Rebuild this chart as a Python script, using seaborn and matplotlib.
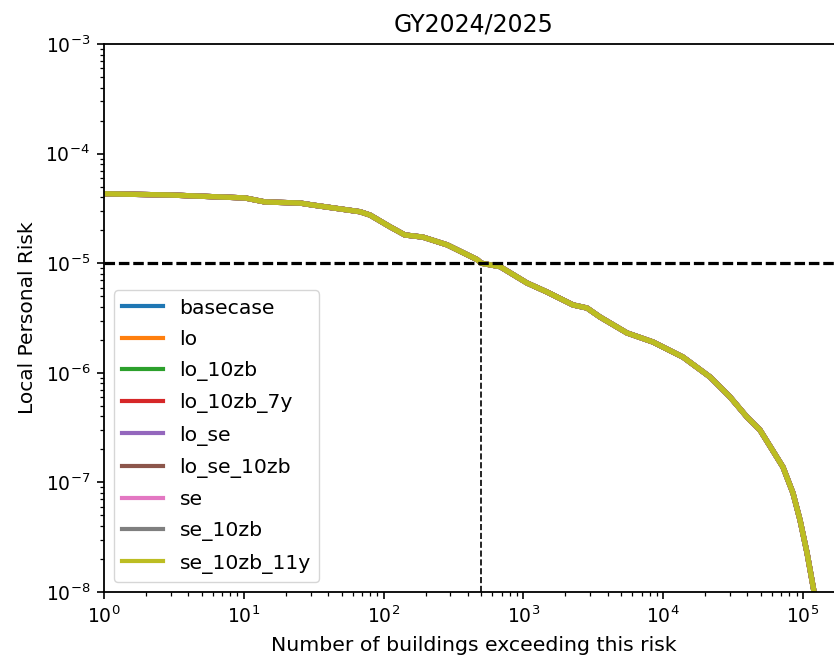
import numpy as np
import pandas as pd
import matplotlib
matplotlib.use("Agg")
import matplotlib.pyplot as plt
import seaborn as sns

# Scenario names (all scenarios give the same exceedance curve)
scenarios = ["basecase", "lo", "lo_10zb", "lo_10zb_7y", "lo_se",
             "lo_se_10zb", "se", "se_10zb", "se_10zb_11y"]

# Number of buildings exceeding a given local personal risk
buildings = [1, 2.97, 10.2, 14.2, 25.2, 31.3, 67.7, 80, 111, 142, 191, 285,
             466, 500, 681, 1061, 1476, 2265, 2852, 3530, 5510, 8450,
             13870, 21630, 30060, 39720, 49210, 71910, 84770, 95200,
             106900, 120000, 124000]
risk = [4.3e-5, 4.19e-5, 3.94e-5, 3.62e-5, 3.54e-5, 3.39e-5, 2.95e-5,
        2.75e-5, 2.15e-5, 1.81e-5, 1.73e-5, 1.47e-5, 1.08e-5, 1.0e-5,
        9.3e-6, 6.6e-6, 5.46e-6, 4.16e-6, 3.9e-6, 3.23e-6, 2.31e-6,
        1.91e-6, 1.39e-6, 9.16e-7, 6.02e-7, 3.95e-7, 3.01e-7, 1.38e-7,
        8.0e-8, 4.54e-8, 2.27e-8, 1.0e-8, 8.5e-9]

risk_limit = 1e-5
limit_buildings = 500

title = "GY2024/2025"
xlabel = "Number of buildings exceeding this risk"
ylabel = "Local Personal Risk"

frames = []
for name in scenarios:
    frames.append(pd.DataFrame({"buildings": buildings, "risk": risk,
                                "scenario": name}))
df = pd.concat(frames, ignore_index=True)

fig = plt.figure(figsize=(8.34, 6.66), dpi=100)
# the plot area runs slightly past the right border of the canvas
ax = fig.add_axes([104 / 834, 74 / 666, 739 / 834, 548 / 666])
ax.set_xscale("log")
ax.set_yscale("log")

sns.lineplot(data=df, x="buildings", y="risk", hue="scenario",
             hue_order=scenarios, palette="tab10", linewidth=3.8,
             estimator=None, sort=False, ax=ax)

ax.axhline(risk_limit, color="black", linestyle="--", linewidth=2.3,
           dashes=(3.3, 1.2), zorder=5)
ax.plot([limit_buildings, limit_buildings], [1e-8, risk_limit],
        color="black", linestyle="--", linewidth=1.2, zorder=5)

ax.set_xlim(1, 10 ** (739 / 139.8))
ax.set_ylim(1e-8, 1e-3)

ax.set_title(title, fontsize=17, pad=9)
ax.set_xlabel(xlabel, fontsize=14.7, labelpad=6)
ax.set_ylabel(ylabel, fontsize=14.5, labelpad=6)
ax.tick_params(axis="both", which="major", labelsize=13.5, length=5,
               width=1.2, pad=5)
ax.tick_params(axis="both", which="minor", length=3, width=0.9)
for sp in ax.spines.values():
    sp.set_linewidth(1.3)

leg = ax.legend(loc="lower left", fontsize=14.7, handlelength=2.0,
                borderaxespad=0.5, labelspacing=0.6)
for line in leg.get_lines():
    line.set_linewidth(3)

fig.savefig("out.png", dpi=100)
